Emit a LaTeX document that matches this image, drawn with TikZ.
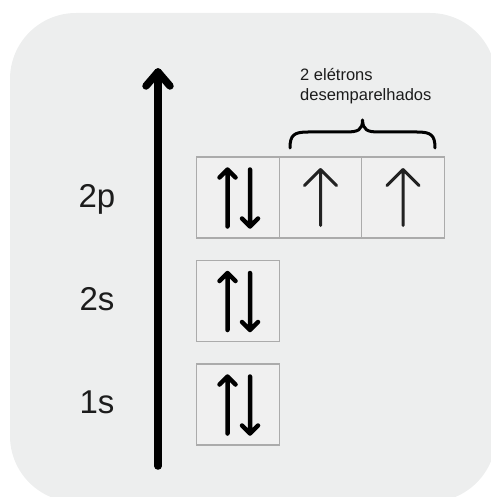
\documentclass[tikz,border=0pt]{standalone}
\usepackage{fontspec}
\setmainfont{Liberation Sans}
\definecolor{panelgray}{HTML}{EDEEEE}
\definecolor{boxfill}{HTML}{F0F0F0}
\definecolor{boxgray}{HTML}{ABABAB}
\definecolor{spingray}{HTML}{222222}
\definecolor{inkgray}{HTML}{1C1C1C}
\begin{document}
\begin{tikzpicture}[x=1pt,y=-1pt,
  panel/.style={fill=panelgray, draw=none, rounded corners=66pt},
  orbital/.style={draw=boxgray, line width=1.2pt, fill=boxfill,
    minimum width=82.5pt, minimum height=81pt, inner sep=0pt},
  level/.style={font=\fontsize{33}{38}\selectfont, text=inkgray, inner sep=0pt},
  note/.style={font=\fontsize{16.5}{20}\selectfont, text=inkgray, inner sep=0pt, anchor=base west},
  energy/.style={line width=7.5pt, line cap=round, line join=round, draw=black},
  spin/.style={line width=4.5pt, line cap=round, line join=round, draw=black},
  single/.style={line width=3pt, line cap=round, line join=round, draw=spingray},
  brace/.style={line width=3pt, line cap=round, line join=round, draw=black},
  paired/.pic={
    \draw[spin] (-10.5,29) -- (-10.5,-28) (-18.5,-20) -- (-10.5,-28) -- (-2.5,-20);
    \draw[spin] (12,-28) -- (12,29) (4,21) -- (12,29) -- (20,21);
  },
  unpaired/.pic={
    \draw[single] (0,28) -- (0,-28) (-16,-12) -- (0,-28) -- (16,-12);
  }]
  \useasboundingbox (0,0) rectangle (490,497);
  % rounded background panel
  \fill[panel] (10,13) rectangle (496,502);

  % energy axis
  \coordinate (axisbottom) at (158,466);
  \coordinate (axistop) at (158,72);
  \coordinate (headleft) at (146,86);
  \coordinate (headright) at (170,86);
  \draw[energy] (axisbottom) -- (axistop);
  \draw[energy] (headleft) -- (axistop) -- (headright);

  % orbital boxes
  \node[orbital] (p1) at (238,197.5) {};
  \node[orbital] (p2) at (320.5,197.5) {};
  \node[orbital] (p3) at (403,197.5) {};
  \node[orbital] (s2) at (238,301) {};
  \node[orbital] (s1) at (238,404.5) {};

  % electrons
  \pic at (p1.center) {paired};
  \pic at (s2.center) {paired};
  \pic at (s1.center) {paired};
  \pic at (p2.center) {unpaired};
  \pic at (p3.center) {unpaired};

  % level labels
  \node[level, anchor=base] (l2p) at (97,207) {2p};
  \node[level, anchor=base] (l2s) at (97,310) {2s};
  \node[level, anchor=base] (l1s) at (97,413) {1s};

  % brace over the unpaired electrons
  \draw[brace] (290,148) .. controls (290,135) and (294,132) .. (308,132)
    -- (346,132) .. controls (358,132) and (362.5,130) .. (362.5,120)
    .. controls (363,130) and (367,132) .. (379,132)
    -- (417,132) .. controls (431,132) and (435,135) .. (435,148);

  \node[note] (n1) at (300,81) {2 elétrons};
  \node[note] (n2) at (300,101) {desemparelhados};
\end{tikzpicture}
\end{document}
